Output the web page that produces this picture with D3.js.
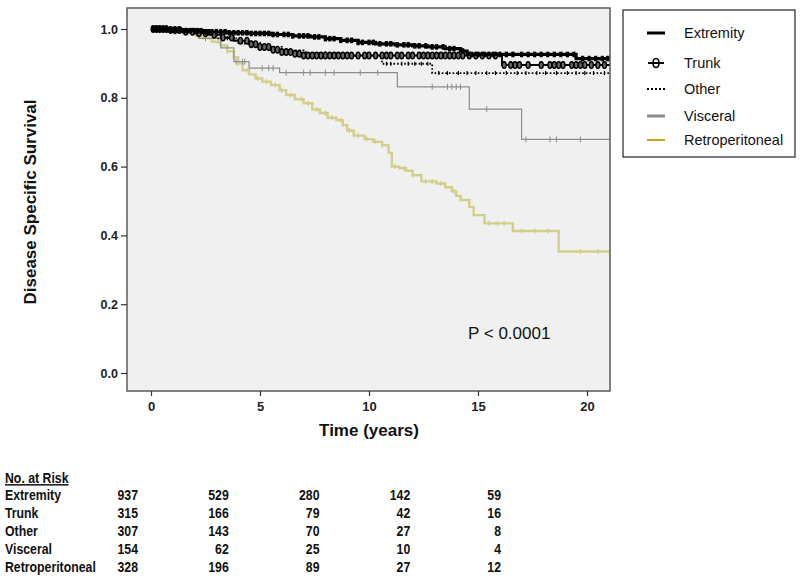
<!DOCTYPE html>
<html><head><meta charset="utf-8">
<script src="https://cdn.jsdelivr.net/npm/d3@7"></script>
<style>body{margin:0;background:#fff}svg{display:block}text{font-family:Arial,"Liberation Sans",sans-serif}</style>
</head><body><svg id="c" width="800" height="581"></svg>
<script>
// ---------------- DATA ----------------
const groups = ["Extremity", "Trunk", "Other", "Visceral", "Retroperitoneal"];
const xTicks = [0, 5, 10, 15, 20];
const yTicks = [0.0, 0.2, 0.4, 0.6, 0.8, 1.0];
const pValueLabel = "P < 0.0001";
const endTime = 21.05;

// Kaplan-Meier steps: [time (years), survival]
const extremity = [[0,1],[0.8,0.998],[1.5,0.995],[2.4,0.992],[3.5,0.989],[4.5,0.987],[5.5,0.984],[6.5,0.980],[7.3,0.977],[8.0,0.972],[8.7,0.967],[9.5,0.961],[10.3,0.957],[11.2,0.954],[12.0,0.951],[12.7,0.948],[13.5,0.943],[14.2,0.936],[14.5,0.926],[19.5,0.914]];
const trunk = [[0,1],[0.8,0.997],[1.5,0.992],[2.0,0.988],[2.6,0.983],[3.2,0.975],[3.8,0.966],[4.5,0.956],[5.0,0.948],[5.5,0.940],[6.0,0.933],[6.5,0.928],[7.0,0.923],[16.1,0.895]];
const other = [[0,1],[1.0,0.995],[2.0,0.986],[3.0,0.973],[4.0,0.960],[5.0,0.948],[6.0,0.938],[7.0,0.930],[8.5,0.922],[10.6,0.899],[12.9,0.872]];
const visceral = [[0,1],[1.0,0.992],[2.2,0.973],[3.2,0.945],[3.8,0.905],[4.5,0.886],[5.9,0.873],[11.3,0.832],[14.6,0.767],[17.0,0.679]];
const retroperitoneal = [[0,1],[0.5,0.997],[1.0,0.993],[1.5,0.988],[2.0,0.982],[2.4,0.974],[2.8,0.963],[3.2,0.952],[3.5,0.935],[3.8,0.918],[4.0,0.900],[4.2,0.880],[4.5,0.868],[4.8,0.856],[5.1,0.847],[5.5,0.837],[5.9,0.822],[6.2,0.808],[6.6,0.796],[7.0,0.784],[7.4,0.766],[7.75,0.756],[8.1,0.742],[8.5,0.735],[8.8,0.720],[9.0,0.705],[9.3,0.690],[9.8,0.680],[10.2,0.672],[10.6,0.662],[10.9,0.640],[11.05,0.600],[11.4,0.595],[11.7,0.588],[12.0,0.575],[12.4,0.557],[13.1,0.551],[13.5,0.540],[13.8,0.528],[14.0,0.515],[14.2,0.503],[14.6,0.483],[14.8,0.459],[15.3,0.435],[16.6,0.413],[18.7,0.353]];

// censoring times (years)
const extremityCensor = [0.1,0.2,0.3,0.4,0.5,0.6,0.7,0.8,0.9,1.0,1.1,1.2,1.35,1.5,1.65,1.8,2.0,2.15,2.3,2.5,2.65,2.8,3.0,3.2,3.4,3.6,3.8,4.0,4.2,4.4,4.6,4.8,5.0,5.2,5.4,5.6,5.8,6.1,6.3,6.5,6.8,7.0,7.2,7.5,7.7,8.0,8.2,8.4,8.7,9.0,9.2,9.5,9.7,10.0,10.2,10.5,10.8,11.0,11.3,11.6,11.8,12.1,12.3,12.6,12.9,13.1,13.4,13.7,13.9,14.3,14.7,15.0,15.3,15.7,16.0,16.3,16.6,17.0,17.3,17.6,17.9,18.2,18.5,18.8,19.1,19.4,19.8,20.1,20.4,20.7,20.95];
const trunkCensor = [0.1,0.25,0.4,0.55,0.7,0.9,1.1,1.3,1.6,1.9,2.2,2.5,2.9,3.3,3.7,4.1,4.4,4.6,4.8,5.0,5.2,5.4,5.6,5.8,6.0,6.2,6.4,6.6,6.8,7.0,7.2,7.4,7.6,7.8,8.0,8.2,8.4,8.6,8.8,9.0,9.2,9.5,9.8,10.0,10.3,10.6,10.8,11.0,11.3,11.5,11.8,12.0,12.3,12.5,12.7,12.9,13.1,13.3,13.5,13.7,13.9,14.1,14.3,14.6,14.9,15.2,15.5,15.8,16.2,16.5,16.7,16.9,17.3,17.9,18.3,18.5,18.7,18.9,19.3,19.5,19.7,19.9,20.2,20.5,20.8];
const otherCensor = [0.2,0.5,0.9,1.4,2.1,2.8,3.5,4.3,5.2,6.0,7.1,8.0,9.0,10.8,11.0,11.5,11.8,12.1,12.4,12.7,13.2,13.6,14.1,14.5,14.9,15.4,15.8,16.3,16.8,17.2,17.7,18.1,18.6,19.1,19.5,19.9,20.3,20.8];
const visceralCensor = [0.2,0.4,0.7,1.1,1.6,2.5,3.9,4.2,4.3,5.1,5.4,5.6,6.2,7.0,7.3,8.0,8.4,9.6,10.4,12.9,13.6,13.8,14.0,14.2,15.4,17.2,18.3,18.6,19.7];
const retroCensor = [0.1,0.3,0.5,0.8,1.1,1.5,1.9,2.3,2.7,3.1,3.5,4.0,4.4,4.9,5.3,5.7,6.0,6.4,6.9,7.2,7.6,8.0,8.3,8.7,9.1,9.5,9.9,10.3,10.6,11.2,11.6,12.0,12.6,12.9,13.3,13.9,15.5,15.9,16.2,17.0,17.6,18.2,19.7,20.5];

// number at risk at 0,5,10,15,20 years
const riskTitle = "No. at Risk";
const riskExtremity = [937, 529, 280, 142, 59];
const riskTrunk = [315, 166, 79, 42, 16];
const riskOther = [307, 143, 70, 27, 8];
const riskVisceral = [154, 62, 25, 10, 4];
const riskRetro = [328, 196, 89, 27, 12];

// ---------------- DRAW ----------------
const svg = d3.select("#c");
const P = {x0: 127, x1: 610, y0: 8, y1: 391};
const x = d3.scaleLinear().domain([0, 20]).range([151, 587]);
const y = d3.scaleLinear().domain([0, 1]).range([373, 29]);

svg.append("rect").attr("x", P.x0).attr("y", P.y0).attr("width", P.x1 - P.x0).attr("height", P.y1 - P.y0)
  .attr("fill", "#f0f0f0");

svg.append("defs").append("clipPath").attr("id", "clip")
  .append("rect").attr("x", P.x0).attr("y", P.y0).attr("width", P.x1 - P.x0).attr("height", P.y1 - P.y0);

const styles = {
  Extremity: {data: extremity, censor: extremityCensor, color: "#000", width: 3.2, dash: null, mark: "rect"},
  Trunk: {data: trunk, censor: trunkCensor, color: "#000", width: 2, dash: null, mark: "oval"},
  Other: {data: other, censor: otherCensor, color: "#000", width: 1.8, dash: "1.6,2", mark: "tick"},
  Visceral: {data: visceral, censor: visceralCensor, color: "#8c8c8c", width: 1.2, dash: null, mark: "plus"},
  Retroperitoneal: {data: retroperitoneal, censor: retroCensor, color: "#d3ce8a", width: 2.4, dash: null, mark: "retro"}
};

function survAt(data, t) {
  let s = data[0][1];
  for (const d of data) { if (d[0] <= t) s = d[1]; }
  return s;
}

const line = d3.line().x(d => x(d[0])).y(d => y(d[1])).curve(d3.curveStepAfter);
const curves = svg.append("g").attr("clip-path", "url(#clip)");
["Retroperitoneal", "Visceral", "Other", "Trunk", "Extremity"].forEach(name => {
  const st = styles[name];
  const pts = st.data.concat([[endTime, st.data[st.data.length - 1][1]]]);
  curves.append("path").attr("d", line(pts)).attr("fill", "none")
    .attr("stroke", st.color).attr("stroke-width", st.width)
    .attr("stroke-dasharray", st.dash);
  const g = curves.append("g");
  st.censor.forEach(t => {
    const cx = x(t), cy = y(survAt(st.data, t));
    if (st.mark === "rect") {
      g.append("rect").attr("x", cx - 1.6).attr("y", cy - 2.8).attr("width", 3.2).attr("height", 5.6).attr("fill", "#000");
    } else if (st.mark === "oval") {
      g.append("ellipse").attr("cx", cx).attr("cy", cy).attr("rx", 2).attr("ry", 3.3)
        .attr("fill", "#6a6a6a").attr("stroke", "#000").attr("stroke-width", 1.4);
    } else if (st.mark === "tick") {
      g.append("line").attr("x1", cx).attr("x2", cx).attr("y1", cy - 2).attr("y2", cy + 2).attr("stroke", "#000").attr("stroke-width", 1.2);
    } else if (st.mark === "plus") {
      g.append("line").attr("x1", cx).attr("x2", cx).attr("y1", cy - 3).attr("y2", cy + 3).attr("stroke", st.color).attr("stroke-width", 1);
    } else {
      g.append("line").attr("x1", cx).attr("x2", cx).attr("y1", cy - 2.5).attr("y2", cy + 2.5).attr("stroke", st.color).attr("stroke-width", 1.4);
    }
  });
});

svg.append("rect").attr("x", P.x0).attr("y", P.y0).attr("width", P.x1 - P.x0).attr("height", P.y1 - P.y0)
  .attr("fill", "none").attr("stroke", "#5a5a5a").attr("stroke-width", 1.5);

// axes
const ya = svg.append("g").attr("transform", `translate(${P.x0},0)`)
  .call(d3.axisLeft(y).tickValues(yTicks).tickFormat(d3.format(".1f")).tickSize(6).tickPadding(3));
ya.select(".domain").remove();
ya.selectAll("line").attr("stroke", "#333").attr("stroke-width", 1.2);
ya.selectAll("text").attr("font-size", 12.5).attr("font-weight", "bold").attr("fill", "#222")
  .attr("font-family", "Arial, 'Liberation Sans', sans-serif");

const xa = svg.append("g").attr("transform", `translate(0,${P.y1})`)
  .call(d3.axisBottom(x).tickValues(xTicks).tickFormat(d3.format("d")).tickSize(5).tickPadding(6));
xa.select(".domain").remove();
xa.selectAll("line").attr("stroke", "#333").attr("stroke-width", 1.2);
xa.selectAll("text").attr("font-size", 13).attr("font-weight", "bold").attr("fill", "#222")
  .attr("font-family", "Arial, 'Liberation Sans', sans-serif");

svg.append("text").attr("x", (x(0) + x(20)) / 2).attr("y", 436).attr("text-anchor", "middle")
  .attr("font-size", 17).attr("font-weight", "bold").attr("fill", "#111").text("Time (years)");
svg.append("text").attr("transform", "translate(36,202) rotate(-90)").attr("text-anchor", "middle")
  .attr("font-size", 17).attr("font-weight", "bold").attr("fill", "#111").text("Disease Specific Survival");

svg.append("text").attr("x", 468).attr("y", 339).attr("font-size", 17).attr("fill", "#111").text(pValueLabel);

// legend
const L = svg.append("g");
L.append("rect").attr("x", 623).attr("y", 10).attr("width", 172).attr("height", 147)
  .attr("fill", "#fff").attr("stroke", "#333").attr("stroke-width", 1.3);
const legY = [33, 63, 89, 116, 140];
const legendSwatch = {Extremity: "#000", Trunk: "#000", Other: "#000", Visceral: "#8c8c8c", Retroperitoneal: "#c8a422"};
groups.forEach((name, i) => {
  const cy = legY[i];
  const g = L.append("g");
  if (name === "Extremity") {
    g.append("line").attr("x1", 647).attr("x2", 665).attr("y1", cy).attr("y2", cy).attr("stroke", "#000").attr("stroke-width", 3);
  } else if (name === "Trunk") {
    g.append("line").attr("x1", 648).attr("x2", 664).attr("y1", cy).attr("y2", cy).attr("stroke", "#000").attr("stroke-width", 2);
    g.append("ellipse").attr("cx", 656).attr("cy", cy).attr("rx", 3).attr("ry", 4.5).attr("fill", "none").attr("stroke", "#000").attr("stroke-width", 1.6);
  } else if (name === "Other") {
    g.append("line").attr("x1", 647).attr("x2", 665).attr("y1", cy).attr("y2", cy).attr("stroke", "#000").attr("stroke-width", 2).attr("stroke-dasharray", "2,2");
  } else {
    g.append("line").attr("x1", 647).attr("x2", 665).attr("y1", cy).attr("y2", cy).attr("stroke", legendSwatch[name]).attr("stroke-width", name === "Visceral" ? 3 : 2);
  }
  g.append("text").attr("x", 684).attr("y", cy + 5).attr("font-size", 14.5).attr("fill", "#111").text(name);
});

// risk table (condensed bold text)
const riskRows = [riskExtremity, riskTrunk, riskOther, riskVisceral, riskRetro];
const colX = d3.scaleLinear().domain([0, 20]).range([138, 501]);
const sx = 0.82;
function tableText(tx, ty, str, anchor, underline) {
  svg.append("text").attr("transform", `translate(${tx},${ty}) scale(${sx},1)`)
    .attr("text-anchor", anchor || "start").attr("font-size", 15).attr("font-weight", "bold")
    .attr("text-decoration", underline ? "underline" : null).attr("fill", "#111").text(str);
}
tableText(5, 483, riskTitle, "start", true);
groups.forEach((name, i) => {
  const by = 500 + i * 18;
  tableText(5, by, name, "start");
  riskRows[i].forEach((v, j) => tableText(colX(xTicks[j]), by, v, "end"));
});
</script></body></html>
